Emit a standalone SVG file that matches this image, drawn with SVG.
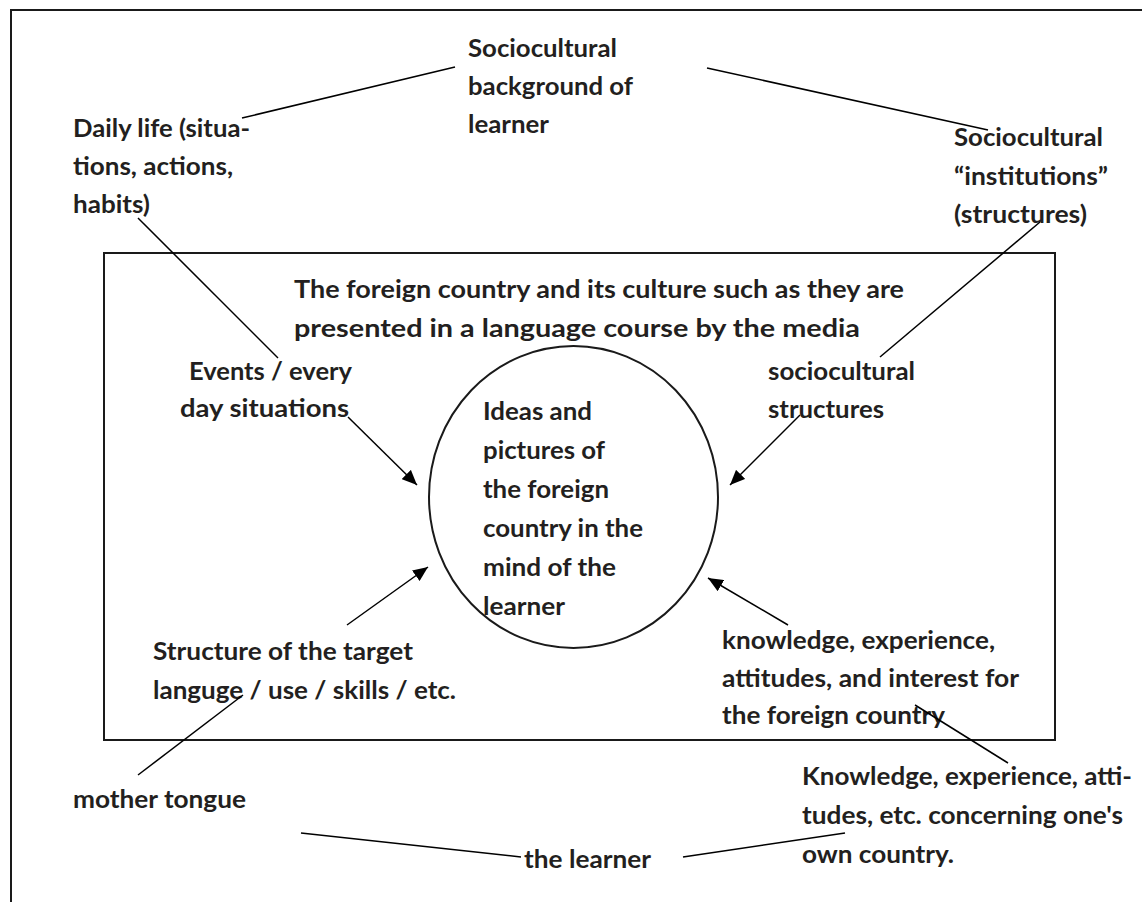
<svg xmlns="http://www.w3.org/2000/svg" width="1142" height="902" viewBox="0 0 1142 902">
<style>
text{font-family:Lato,"Liberation Sans",sans-serif;font-weight:bold;font-size:25px;fill:#231f20}
.frame{fill:none;stroke:#1a1a1a;stroke-width:2}
.link{fill:none;stroke:#000;stroke-width:1.5}
</style>
<defs>
<marker id="ah" markerUnits="userSpaceOnUse" markerWidth="16" markerHeight="13" refX="15" refY="6.5" orient="auto">
<path d="M0,0 L15,6.5 L0,13 z" fill="#000"/>
</marker>
</defs>
<rect width="1142" height="902" fill="#fff"/>
<rect id="outer-frame" class="frame" x="11" y="10" width="1145" height="905"/>
<g id="media-box">
<rect class="frame" x="104" y="253" width="951" height="487"/>
<text x="294" y="298" textLength="610" lengthAdjust="spacingAndGlyphs">The foreign country and its culture such as they are</text>
<text x="294" y="337" textLength="566" lengthAdjust="spacingAndGlyphs">presented in a language course by the media</text>
</g>
<g id="ideas-circle">
<ellipse class="frame" cx="573.5" cy="497" rx="144.5" ry="151" stroke-width="1.8"/>
<text x="483" y="420" textLength="109" lengthAdjust="spacingAndGlyphs">Ideas and</text>
<text x="483" y="459" textLength="122" lengthAdjust="spacingAndGlyphs">pictures of</text>
<text x="483" y="498" textLength="126" lengthAdjust="spacingAndGlyphs">the foreign</text>
<text x="483" y="537" textLength="160" lengthAdjust="spacingAndGlyphs">country in the</text>
<text x="483" y="576" textLength="133" lengthAdjust="spacingAndGlyphs">mind of the</text>
<text x="483" y="615" textLength="82" lengthAdjust="spacingAndGlyphs">learner</text>
</g>
<g id="socio-background">
<text x="468" y="57" textLength="149" lengthAdjust="spacingAndGlyphs">Sociocultural</text>
<text x="468" y="95" textLength="165" lengthAdjust="spacingAndGlyphs">background of</text>
<text x="468" y="133" textLength="81" lengthAdjust="spacingAndGlyphs">learner</text>
</g>
<g id="daily-life">
<text x="73" y="137" textLength="177" lengthAdjust="spacingAndGlyphs">Daily life (situa-</text>
<text x="73" y="175" textLength="160" lengthAdjust="spacingAndGlyphs">tions, actions,</text>
<text x="73" y="213" textLength="77" lengthAdjust="spacingAndGlyphs">habits)</text>
</g>
<g id="socio-institutions">
<text x="954" y="146" textLength="149" lengthAdjust="spacingAndGlyphs">Sociocultural</text>
<text x="954" y="185" textLength="154" lengthAdjust="spacingAndGlyphs">“institutions”</text>
<text x="954" y="223" textLength="133" lengthAdjust="spacingAndGlyphs">(structures)</text>
</g>
<g id="events">
<text x="189" y="380" textLength="163" lengthAdjust="spacingAndGlyphs">Events / every</text>
<text x="180" y="417" textLength="169" lengthAdjust="spacingAndGlyphs">day situations</text>
</g>
<g id="socio-structures">
<text x="768" y="380" textLength="147" lengthAdjust="spacingAndGlyphs">sociocultural</text>
<text x="768" y="418" textLength="116" lengthAdjust="spacingAndGlyphs">structures</text>
</g>
<g id="target-language">
<text x="153" y="660" textLength="260" lengthAdjust="spacingAndGlyphs">Structure of the target</text>
<text x="153" y="699" textLength="303" lengthAdjust="spacingAndGlyphs">languge / use / skills / etc.</text>
</g>
<g id="foreign-knowledge">
<text x="722" y="649" textLength="273" lengthAdjust="spacingAndGlyphs">knowledge, experience,</text>
<text x="722" y="687" textLength="297" lengthAdjust="spacingAndGlyphs">attitudes, and interest for</text>
<text x="722" y="724" textLength="223" lengthAdjust="spacingAndGlyphs">the foreign country</text>
</g>
<g id="mother-tongue">
<text x="73" y="808" textLength="173" lengthAdjust="spacingAndGlyphs">mother tongue</text>
</g>
<g id="own-knowledge">
<text x="802" y="785" textLength="330" lengthAdjust="spacingAndGlyphs">Knowledge, experience, atti-</text>
<text x="802" y="824" textLength="321" lengthAdjust="spacingAndGlyphs">tudes, etc. concerning one's</text>
<text x="802" y="863" textLength="152" lengthAdjust="spacingAndGlyphs">own country.</text>
</g>
<g id="the-learner">
<text x="524" y="868" textLength="127" lengthAdjust="spacingAndGlyphs">the learner</text>
</g>
<g id="connectors" class="link">
<line x1="242" y1="118" x2="455" y2="67"/>
<line x1="707" y1="68" x2="988" y2="130"/>
<line x1="138" y1="218" x2="278" y2="358"/>
<line x1="1040" y1="222" x2="880" y2="357"/>
<line x1="243" y1="695" x2="138" y2="775"/>
<line x1="915" y1="705" x2="1008" y2="763"/>
<line x1="301" y1="833" x2="521" y2="857"/>
<line x1="683" y1="857" x2="845" y2="833"/>
<line x1="348" y1="417" x2="417" y2="485" marker-end="url(#ah)"/>
<line x1="800" y1="415" x2="730" y2="485" marker-end="url(#ah)"/>
<line x1="347" y1="625" x2="428" y2="567" marker-end="url(#ah)"/>
<line x1="788" y1="625" x2="708" y2="578" marker-end="url(#ah)"/>
</g>
</svg>
